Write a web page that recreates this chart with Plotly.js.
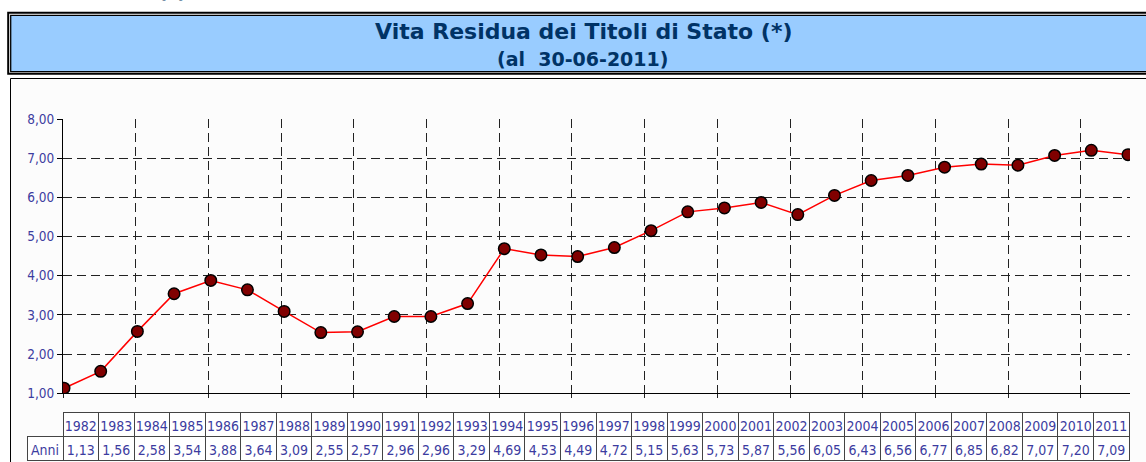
<!DOCTYPE html>
<html>
<head>
<meta charset="utf-8">
<script src="https://cdn.plot.ly/plotly-3.0.1.min.js"></script>
<style>html,body{margin:0;padding:0;background:#fff;}#chart{width:1146px;height:462px;}</style>
</head>
<body>
<div id="chart"></div>
<script>
// ---- data ----
var years = [1982,1983,1984,1985,1986,1987,1988,1989,1990,1991,1992,1993,1994,1995,1996,1997,1998,1999,2000,2001,2002,2003,2004,2005,2006,2007,2008,2009,2010,2011];
var vitaResidua = [1.13,1.56,2.58,3.54,3.88,3.64,3.09,2.55,2.57,2.96,2.96,3.29,4.69,4.53,4.49,4.72,5.15,5.63,5.73,5.87,5.56,6.05,6.43,6.56,6.77,6.85,6.82,7.07,7.20,7.09];
var rowLabel = 'Anni';
var titleLine1 = 'Vita Residua dei Titoli di Stato (*)';
var titleLine2 = '(al  30-06-2011)';

// ---- geometry helpers (pixel -> paper) ----
var W = 1146, H = 462, ML = 27, MR = 16, MT = 119, MB = 0;
var PW = W - ML - MR, PH = H - MT - MB;
function px(x){ return (x - ML) / PW; }
function py(y){ return (H - MB - y) / PH; }

var navy = '#003366';
var tick = '#3c3ca0';
var font = 'DejaVu Sans, Verdana, sans-serif';
var smallFont = 'DejaVu Sans Condensed, DejaVu Sans, sans-serif';

var fmt = function(v){ return v.toFixed(2).replace('.', ','); };

var lineTrace = {
  type: 'scatter', mode: 'lines+markers',
  x: years, y: vitaResidua,
  xaxis: 'x', yaxis: 'y',
  line: {color: '#ff0000', width: 1.5},
  marker: {size: 11.5, color: '#800000', line: {color: '#000', width: 1.5}},
  hoverinfo: 'x+y'
};
var gridHolder = {type: 'scatter', x: [], y: [], xaxis: 'x2', yaxis: 'y', showlegend: false, hoverinfo: 'skip'};

var nCols = years.length;
var headerVals = [''].concat(years.map(String));
var cellVals = [[rowLabel]].concat(vitaResidua.map(function(v){ return [fmt(v)]; }));
var colW = [36].concat(years.map(function(){ return 1066 / nCols; }));
var hdrFill = ['rgba(0,0,0,0)'].concat(years.map(function(){ return '#ffffff'; }));
var hdrLine = ['rgba(0,0,0,0)'].concat(years.map(function(){ return '#444'; }));

var tableTrace = {
  type: 'table',
  domain: {x: [0, px(1129)], y: [0, py(412)]},
  columnwidth: colW,
  header: {values: headerVals, fill: {color: hdrFill}, line: {color: hdrLine, width: 1},
           font: {family: smallFont, size: 14, color: tick}, height: 24, align: 'center'},
  cells: {values: cellVals, fill: {color: '#ffffff'}, line: {color: '#444', width: 1},
          font: {family: smallFont, size: 14, color: tick}, height: 24, align: 'center'}
};

var x0 = years[0], x1 = years[years.length - 1];
var pxPerYear = (1128 - 64) / (x1 - x0);

var layout = {
  width: W, height: H,
  margin: {l: ML, r: MR, t: MT, b: MB},
  paper_bgcolor: '#ffffff',
  plot_bgcolor: '#f6f6f6',
  showlegend: false,
  separators: ',.',
  font: {family: font, size: 12, color: tick},
  xaxis: {
    domain: [px(63), 1],
    range: [x0 - 1 / pxPerYear, x1 + 2 / pxPerYear],
    showgrid: false, zeroline: false,
    showline: true, linecolor: '#000', linewidth: 1,
    ticks: '', showticklabels: false, fixedrange: true
  },
  xaxis2: {
    overlaying: 'x', anchor: 'y', side: 'bottom',
    range: [0, 1067 / 72.7], dtick: 1, tick0: 0,
    showgrid: true, gridcolor: '#222', gridwidth: 1, griddash: '9px,5px',
    zeroline: false, showline: false,
    ticks: 'outside', ticklen: 4, tickcolor: '#222', tickwidth: 1,
    showticklabels: false, fixedrange: true
  },
  yaxis: {
    domain: [py(393.3), 1],
    range: [1, 8], dtick: 1, tick0: 1,
    tickformat: '.2f',
    showgrid: true, gridcolor: '#222', gridwidth: 1, griddash: '9px,5px',
    zeroline: false,
    showline: true, linecolor: '#000', linewidth: 1,
    ticks: 'outside', ticklen: 5, tickcolor: '#000', tickwidth: 1,
    tickfont: {family: smallFont, size: 13.5, color: tick},
    fixedrange: true
  },
  shapes: [
    // lower frame
    {type: 'rect', xref: 'paper', yref: 'paper', layer: 'below',
     x0: px(10.5), x1: px(1160), y0: py(78.5), y1: py(480),
     line: {color: '#000', width: 1}, fillcolor: '#fcfcfc'},
    // title box outer line
    {type: 'rect', xref: 'paper', yref: 'paper', layer: 'above',
     x0: px(8.2), x1: px(1160), y0: py(12.7), y1: py(73.8),
     line: {color: '#000', width: 2}, fillcolor: 'rgba(0,0,0,0)'},
    // title box inner
    {type: 'rect', xref: 'paper', yref: 'paper', layer: 'below',
     x0: px(10.7), x1: px(1160), y0: py(15.4), y1: py(71.6),
     line: {color: '#000', width: 1.3}, fillcolor: '#99ccff'}
  ],
  annotations: [
    {text: '<b>' + titleLine1 + '</b>', xref: 'paper', yref: 'paper', x: px(583), y: py(31),
     xanchor: 'center', yanchor: 'middle', showarrow: false,
     font: {family: font, size: 22, color: navy}},
    {text: '<b>' + titleLine2 + '</b>', xref: 'paper', yref: 'paper', x: px(582), y: py(59),
     xanchor: 'center', yanchor: 'middle', showarrow: false,
     font: {family: font, size: 19, color: navy}},
    {text: '<b>(*)</b>', xref: 'paper', yref: 'paper', x: px(172), y: py(5),
     xanchor: 'center', yanchor: 'bottom', showarrow: false,
     font: {family: font, size: 20, color: navy}}
  ]
};

Plotly.newPlot('chart', [gridHolder, lineTrace, tableTrace], layout, {displayModeBar: false, staticPlot: true});
</script>
</body>
</html>
